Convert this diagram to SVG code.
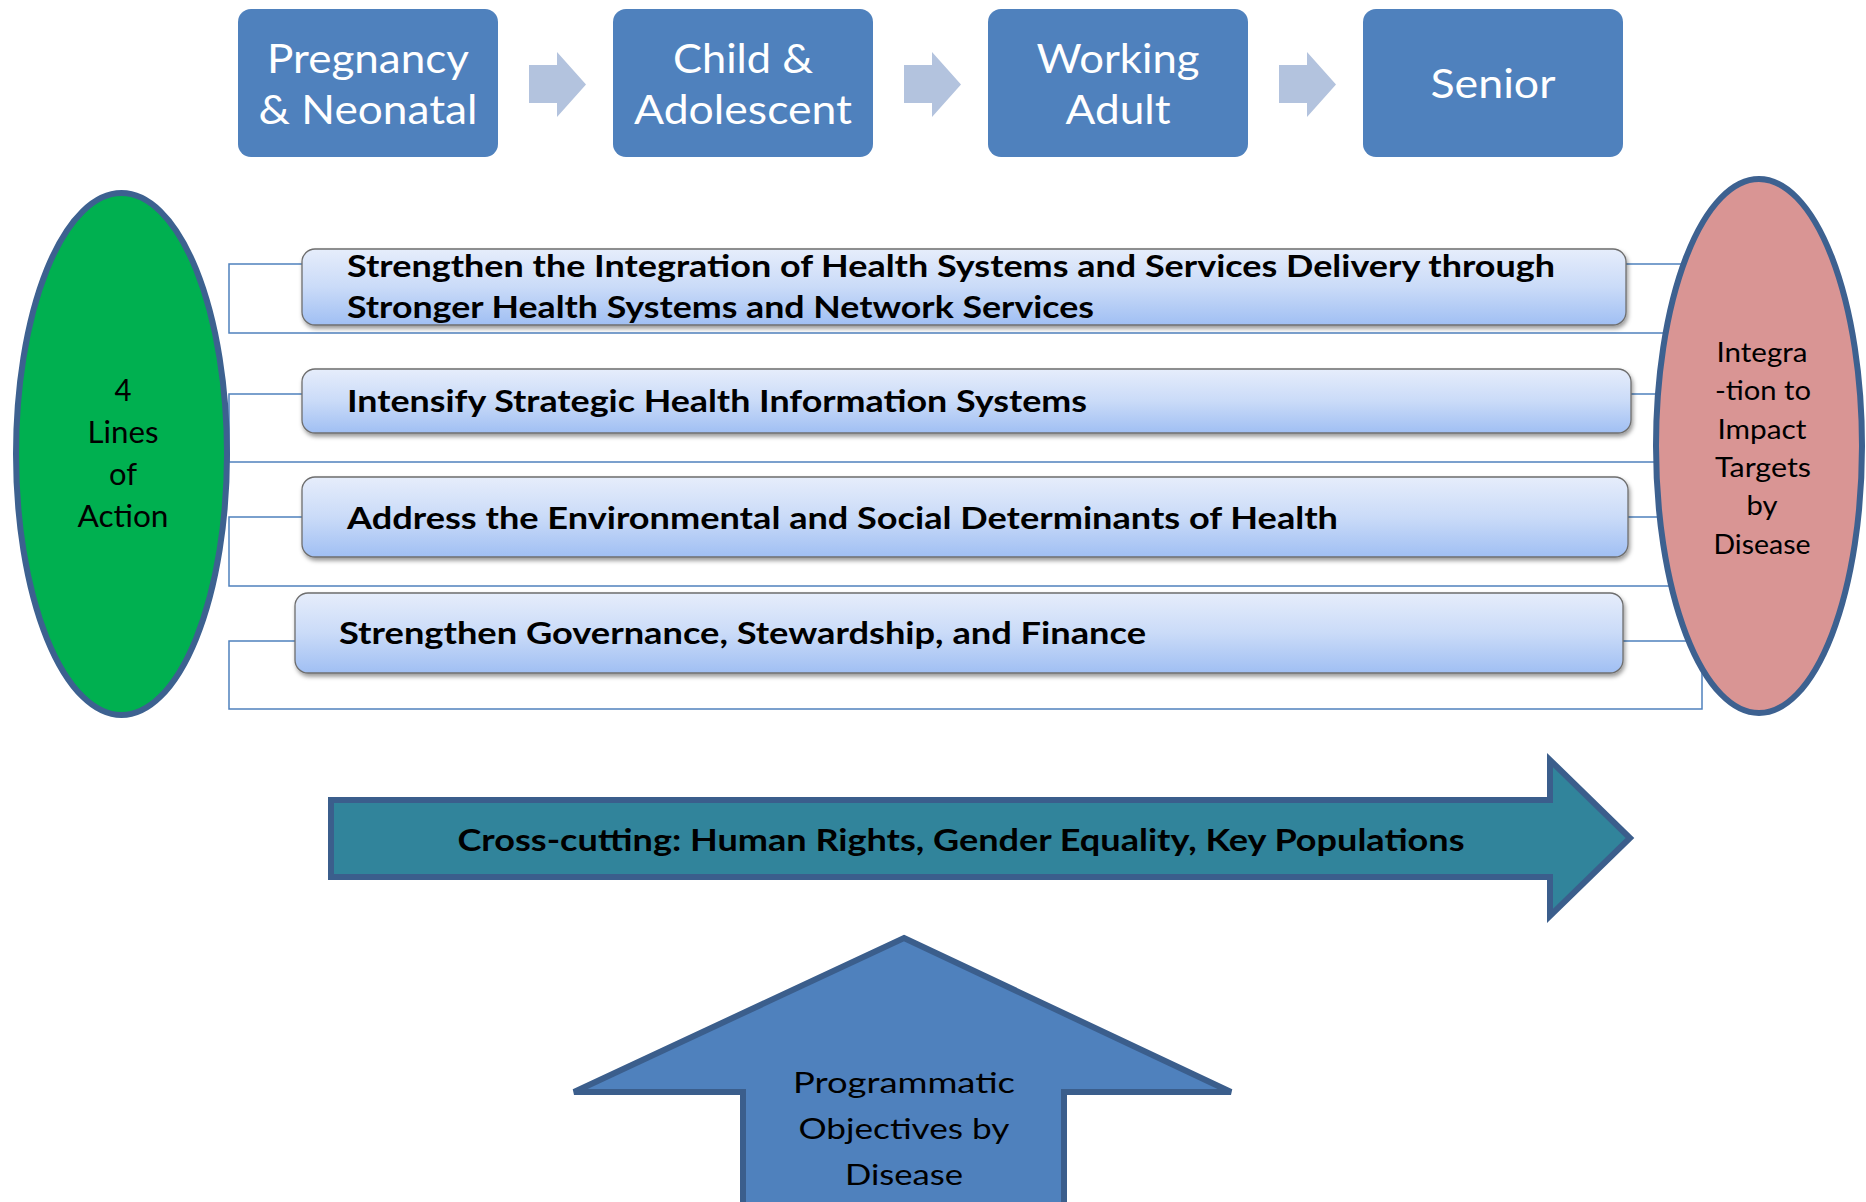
<svg xmlns="http://www.w3.org/2000/svg" width="1866" height="1202" viewBox="0 0 1866 1202">
  <defs>
    <linearGradient id="lineFill" x1="0" y1="0" x2="0" y2="1">
      <stop offset="0" stop-color="#e6edfb"/>
      <stop offset="0.5" stop-color="#cadbf8"/>
      <stop offset="1" stop-color="#a0bff3"/>
    </linearGradient>
    <filter id="softShadow" x="-5%" y="-20%" width="110%" height="150%">
      <feDropShadow dx="1.5" dy="3" stdDeviation="2" flood-color="#000" flood-opacity="0.4"/>
    </filter>
  </defs>
  <style>
    .stage rect { fill: #4f81bd; }
    .stage text { fill: #ffffff; font-family: Lato, "Liberation Sans", sans-serif; font-size: 40px; text-anchor: middle; }
    .step { fill: #b3c3de; }
    .bracket { fill: none; stroke: #4f81bd; stroke-width: 1.5; }
    .line rect { fill: url(#lineFill); stroke: #6e6e6e; stroke-width: 1.3; filter: url(#softShadow); }
    .line text { fill: #000000; font-family: Lato, "Liberation Sans", sans-serif; font-weight: bold; font-size: 30px; }
    .oval { stroke: #3d6190; stroke-width: 6; }
    .oval-text { fill: #000000; font-family: Lato, "Liberation Sans", sans-serif; text-anchor: middle; }
    .big-arrow { stroke: #3b5e8c; stroke-width: 6; stroke-linejoin: miter; }
  </style>

  <rect x="0" y="0" width="1866" height="1202" fill="#ffffff"/>

  <!-- life-course stages -->
  <g id="stage-pregnancy" class="stage">
    <rect x="238" y="9" width="260" height="148" rx="13"/>
    <text x="368" y="73" textLength="202" lengthAdjust="spacingAndGlyphs">Pregnancy</text>
    <text x="368" y="124" textLength="219" lengthAdjust="spacingAndGlyphs">&amp; Neonatal</text>
  </g>
  <g id="stage-child" class="stage">
    <rect x="613" y="9" width="260" height="148" rx="13"/>
    <text x="743" y="73" textLength="140" lengthAdjust="spacingAndGlyphs">Child &amp;</text>
    <text x="743" y="124" textLength="218" lengthAdjust="spacingAndGlyphs">Adolescent</text>
  </g>
  <g id="stage-working" class="stage">
    <rect x="988" y="9" width="260" height="148" rx="13"/>
    <text x="1118" y="73" textLength="163" lengthAdjust="spacingAndGlyphs">Working</text>
    <text x="1118" y="124" textLength="105" lengthAdjust="spacingAndGlyphs">Adult</text>
  </g>
  <g id="stage-senior" class="stage">
    <rect x="1363" y="9" width="260" height="148" rx="13"/>
    <text x="1493" y="98" textLength="125" lengthAdjust="spacingAndGlyphs">Senior</text>
  </g>

  <!-- connectors: stage steps and the frames linking the lines of action -->
  <g id="connectors">
    <path class="step" d="M529,65 H557 V52 L586,84.5 L557,117 V103 H529 Z"/>
    <path class="step" d="M904,65 H932 V52 L961,84.5 L932,117 V103 H904 Z"/>
    <path class="step" d="M1279,65 H1307 V52 L1336,84.5 L1307,117 V103 H1279 Z"/>
    <rect class="bracket" x="229" y="264" width="1473" height="69"/>
    <rect class="bracket" x="229" y="394" width="1473" height="68"/>
    <rect class="bracket" x="229" y="517" width="1473" height="69"/>
    <rect class="bracket" x="229" y="641" width="1473" height="68"/>
  </g>

  <!-- lines of action -->
  <g id="line-integration" class="line">
    <rect x="302" y="249" width="1324" height="76" rx="13"/>
    <text x="347" y="277" textLength="1208" lengthAdjust="spacingAndGlyphs">Strengthen the Integration of Health Systems and Services Delivery through</text>
    <text x="347" y="318" textLength="747" lengthAdjust="spacingAndGlyphs">Stronger Health Systems and Network Services</text>
  </g>
  <g id="line-information" class="line">
    <rect x="302" y="369" width="1329" height="64" rx="13"/>
    <text x="347" y="412" textLength="740" lengthAdjust="spacingAndGlyphs">Intensify Strategic Health Information Systems</text>
  </g>
  <g id="line-determinants" class="line">
    <rect x="302" y="477" width="1326" height="80" rx="13"/>
    <text x="347" y="529" textLength="991" lengthAdjust="spacingAndGlyphs">Address the Environmental and Social Determinants of Health</text>
  </g>
  <g id="line-governance" class="line">
    <rect x="295" y="593" width="1328" height="80" rx="13"/>
    <text x="339" y="644" textLength="807" lengthAdjust="spacingAndGlyphs">Strengthen Governance, Stewardship, and Finance</text>
  </g>

  <!-- left oval -->
  <g id="lines-of-action">
    <ellipse class="oval" cx="121.5" cy="454" rx="105.5" ry="261" fill="#00b050"/>
    <g class="oval-text" font-size="30">
      <text x="123" y="401" textLength="17" lengthAdjust="spacingAndGlyphs">4</text>
      <text x="123" y="443" textLength="71" lengthAdjust="spacingAndGlyphs">Lines</text>
      <text x="123" y="485" textLength="28" lengthAdjust="spacingAndGlyphs">of</text>
      <text x="123" y="527" textLength="91" lengthAdjust="spacingAndGlyphs">Action</text>
    </g>
  </g>

  <!-- right oval -->
  <g id="impact-targets">
    <ellipse class="oval" cx="1759" cy="446" rx="103" ry="267" fill="#d99594"/>
    <g class="oval-text" font-size="26">
      <text x="1762" y="362" textLength="91" lengthAdjust="spacingAndGlyphs">Integra</text>
      <text x="1763" y="400" textLength="96" lengthAdjust="spacingAndGlyphs">-tion to</text>
      <text x="1762" y="439" textLength="89" lengthAdjust="spacingAndGlyphs">Impact</text>
      <text x="1763" y="477" textLength="96" lengthAdjust="spacingAndGlyphs">Targets</text>
      <text x="1762" y="515" textLength="31" lengthAdjust="spacingAndGlyphs">by</text>
      <text x="1762" y="554" textLength="97" lengthAdjust="spacingAndGlyphs">Disease</text>
    </g>
  </g>

  <!-- cross-cutting band -->
  <g id="cross-cutting">
    <polygon class="big-arrow" fill="#31849b" points="331,800 1550,800 1550,760 1630,838 1550,916 1550,877 331,877"/>
    <text x="961" y="851" text-anchor="middle" font-family="Lato, 'Liberation Sans', sans-serif" font-weight="bold" font-size="31" fill="#000000" textLength="1007" lengthAdjust="spacingAndGlyphs">Cross-cutting: Human Rights, Gender Equality, Key Populations</text>
  </g>

  <!-- programmatic objectives arrow -->
  <g id="programmatic-objectives">
    <polygon class="big-arrow" fill="#4f81bd" points="904,938 1231,1092 1064,1092 1064,1210 743,1210 743,1092 574,1092"/>
    <g class="oval-text" font-size="28">
      <text x="904" y="1093" textLength="222" lengthAdjust="spacingAndGlyphs">Programmatic</text>
      <text x="904" y="1139" textLength="211" lengthAdjust="spacingAndGlyphs">Objectives by</text>
      <text x="904" y="1185" textLength="118" lengthAdjust="spacingAndGlyphs">Disease</text>
    </g>
  </g>
</svg>
